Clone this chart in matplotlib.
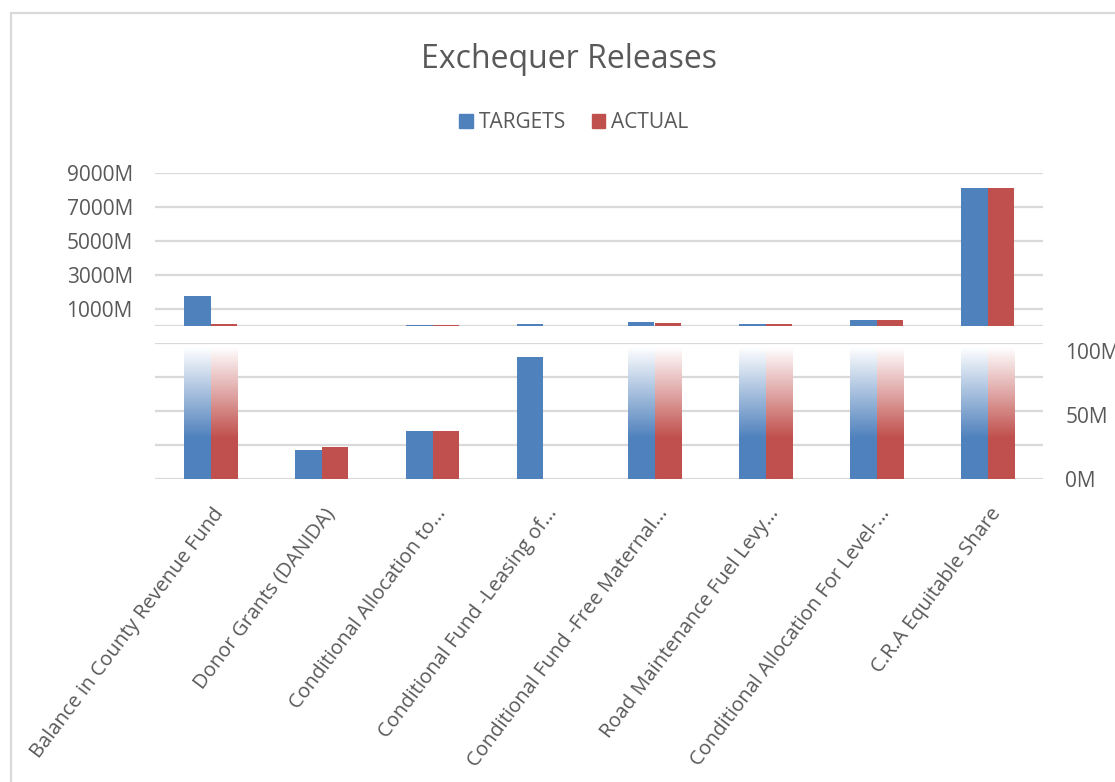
import numpy as np
import matplotlib
matplotlib.use("Agg")
import matplotlib.pyplot as plt
import matplotlib.transforms as mtransforms
from matplotlib.colors import LinearSegmentedColormap
from matplotlib.patches import Rectangle, Patch

plt.rcParams['font.family'] = ['Open Sans', 'DejaVu Sans']

# data, in millions
categories = ["Balance in County Revenue Fund", "Donor Grants (DANIDA)",
              "Conditional Allocation to...", "Conditional Fund -Leasing of...",
              "Conditional Fund -Free Maternal...", "Road Maintenance Fuel Levy...",
              "Conditional Allocation For Level-...", "C.R.A Equitable Share"]
targets = [1765, 22.7, 37.5, 95, 235, 118, 350, 8120]
actual = [104, 25, 37.5, 0, 176, 115, 350, 8120]

top_ticks = [1000, 3000, 5000, 7000, 9000]
top_labels = ["1000M", "3000M", "5000M", "7000M", "9000M"]
low_ticks = [0, 50, 100]
low_labels = ["0M", "50M", "100M"]

BLUE = "#4F81BD"
RED = "#C0504D"
GRID = "#D9D9D9"
TXT = "#595959"

W, H = 1115, 782
fig = plt.figure(figsize=(W / 100, H / 100), dpi=100)

def px_axes(x0, y0, x1, y1):
    return fig.add_axes([x0 / W, 1 - y1 / H, (x1 - x0) / W, (y1 - y0) / H])

ax_top = px_axes(155, 173, 1043, 326)
ax_low = px_axes(155, 343, 1043, 479)

x = np.arange(len(categories))
bw = 0.24
low_max = 106.25

for ax in (ax_top, ax_low):
    ax.set_xlim(-0.5, len(categories) - 0.5)
    for s in ax.spines.values():
        s.set_visible(False)
    ax.tick_params(length=0)
    ax.set_xticks([])
    ax.set_axisbelow(True)

# top panel
ax_top.set_ylim(0, 9000)
for g in [0] + top_ticks:
    ax_top.axhline(g, color=GRID, lw=1.6, zorder=0)
ax_top.bar(x - bw / 2, targets, bw, color=BLUE, zorder=2)
ax_top.bar(x + bw / 2, actual, bw, color=RED, zorder=2)
ax_top.set_yticks(top_ticks)
ax_top.set_yticklabels(top_labels, fontsize=15, color=TXT)
ax_top.tick_params(axis='y', pad=16)

# bottom panel, bars above the range fade out
ax_low.set_ylim(0, low_max)
for g in np.linspace(0, low_max, 5):
    ax_low.axhline(g, color=GRID, lw=1.6, zorder=0)

def fade_cmap(c):
    return LinearSegmentedColormap.from_list("f", [(0, c), (0.31, c), (1, "white")])

grad = np.linspace(0, 1, 256).reshape(-1, 1)
for vals, off, c in ((targets, -bw / 2, BLUE), (actual, bw / 2, RED)):
    for i, v in enumerate(vals):
        if v <= 0:
            continue
        if v > low_ticks[-1]:
            ax_low.imshow(grad, cmap=fade_cmap(c), origin='lower', aspect='auto',
                          extent=(i + off - bw / 2, i + off + bw / 2, 0, low_max * 0.97),
                          zorder=2)
        else:
            ax_low.bar(i + off, v, bw, color=c, zorder=2)
ax_low.set_xlim(-0.5, len(categories) - 0.5)
ax_low.set_ylim(0, low_max)
ax_low.yaxis.tick_right()
ax_low.set_yticks(low_ticks)
ax_low.set_yticklabels(low_labels, fontsize=15, color=TXT)
ax_low.tick_params(axis='y', pad=16)

# category labels
lab_tr = mtransforms.offset_copy(ax_low.transData, fig=fig, x=10, y=-31, units='dots')
for i, name in enumerate(categories):
    ax_low.text(i, 0, name, transform=lab_tr, rotation=53, rotation_mode='anchor',
                ha='right', va='center', fontsize=14.5, color=TXT)

# title and legend
fig.text(569 / W, 1 - 59 / H, "Exchequer Releases", ha='center', va='center',
         fontsize=23, color=TXT)
handles = [Patch(color=BLUE, label="TARGETS"), Patch(color=RED, label="ACTUAL")]
leg = fig.legend(handles=handles, loc='center', bbox_to_anchor=(574 / W, 1 - 123 / H),
                 ncol=2, frameon=False, fontsize=15, handlelength=0.65, handleheight=0.65,
                 handletextpad=0.3, columnspacing=1.2)
for t in leg.get_texts():
    t.set_color(TXT)

# chart frame
fig.patches.append(Rectangle((11 / W, -0.1), 2, 1.1 - 13 / H, transform=fig.transFigure,
                             fill=False, edgecolor=GRID, lw=1.6))

fig.savefig("out.png", dpi=100)
